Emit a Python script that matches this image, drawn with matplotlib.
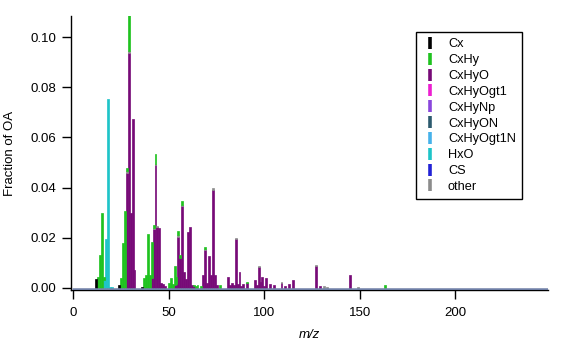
import matplotlib
matplotlib.use("Agg")
import matplotlib.pyplot as plt
from matplotlib.lines import Line2D

plt.rcParams['font.family'] = ['Liberation Sans', 'DejaVu Sans']
plt.rcParams['font.size'] = 9

# Ion families in legend order, with their colours
families = ["Cx", "CxHy", "CxHyO", "CxHyOgt1", "CxHyNp", "CxHyON",
            "CxHyOgt1N", "HxO", "CS", "other"]
colors = {
    "Cx": "#000000",
    "CxHy": "#1fc21f",
    "CxHyO": "#770a77",
    "CxHyOgt1": "#ec1fd0",
    "CxHyNp": "#8a47dc",
    "CxHyON": "#2c5a6e",
    "CxHyOgt1N": "#46b2ea",
    "HxO": "#1ec4c8",
    "CS": "#2222d6",
    "other": "#8c8c8c",
}

# Fraction of OA per nominal m/z for each family
cx_mz = [12, 24, 36]
cx_val = [0.0035, 0.0010, 0.0003]

cxhy_mz = [13, 14, 15, 16, 25, 26, 27, 28, 29, 37, 38, 39, 40, 41, 42, 43,
           50, 51, 52, 53, 54, 55, 56, 57, 63, 64, 65, 67, 69, 77, 91, 163]
cxhy_val = [0.0045, 0.0130, 0.0300, 0.0015, 0.0041, 0.0178, 0.0307, 0.0010,
            0.0148, 0.0040, 0.0052, 0.0215, 0.0050, 0.0145, 0.0010, 0.0038,
            0.0020, 0.0039, 0.0015, 0.0078, 0.0030, 0.0016, 0.0010, 0.0016,
            0.0006, 0.0008, 0.0012, 0.0008, 0.0009, 0.0010, 0.0005, 0.0013]

cxhyo_mz = [28, 29, 30, 31, 32, 41, 42, 43, 44, 45, 46, 47, 48, 53, 54, 55,
            56, 57, 58, 59, 60, 61, 62, 63, 68, 69, 70, 71, 72, 73, 74, 75,
            81, 82, 83, 84, 85, 86, 87, 88, 89, 91, 95, 96, 97, 98, 99, 100,
            101, 103, 105, 109, 111, 113, 115, 127, 129, 145]
cxhyo_val = [0.0460, 0.0935, 0.0300, 0.0672, 0.0072, 0.0040, 0.0236, 0.0490,
             0.0242, 0.0238, 0.0021, 0.0016, 0.0008, 0.0010, 0.0015, 0.0205,
             0.0120, 0.0326, 0.0065, 0.0035, 0.0224, 0.0244, 0.0012, 0.0006,
             0.0050, 0.0150, 0.0020, 0.0127, 0.0052, 0.0392, 0.0052, 0.0012,
             0.0045, 0.0012, 0.0020, 0.0010, 0.0195, 0.0015, 0.0062, 0.0008,
             0.0015, 0.0020, 0.0032, 0.0012, 0.0083, 0.0025, 0.0043, 0.0008,
             0.0041, 0.0015, 0.0012, 0.0018, 0.0008, 0.0015, 0.0032, 0.0087,
             0.0006, 0.0052]

hxo_mz = [16, 17, 18, 19, 20]
hxo_val = [0.0030, 0.0196, 0.0755, 0.0003, 0.0003]

other_mz = [28, 29, 42, 43, 44, 55, 57, 69, 73, 85, 97, 109, 127, 131, 133, 149]
other_val = [0.0008, 0.0008, 0.0005, 0.0006, 0.0004, 0.0006, 0.0006, 0.0004,
             0.0005, 0.0006, 0.0005, 0.0004, 0.0004, 0.0006, 0.0003, 0.0005]

series = {
    "Cx": (cx_mz, cx_val),
    "CxHy": (cxhy_mz, cxhy_val),
    "CxHyO": (cxhyo_mz, cxhyo_val),
    "HxO": (hxo_mz, hxo_val),
    "other": (other_mz, other_val),
}

# bottom-to-top stacking order of the bars
stack_order = ["CxHyO", "CxHyOgt1", "CxHyNp", "CxHyON", "CxHyOgt1N",
               "HxO", "CS", "other", "CxHy", "Cx"]

fig = plt.figure(figsize=(5.77, 3.40), dpi=100)
ax = fig.add_axes([0.1225, 0.1471, 0.8272, 0.8058])

base = {}
for fam in stack_order:
    if fam not in series:
        continue
    xs, ys = series[fam]
    bottoms = [base.get(m, 0.0) for m in xs]
    ax.bar(xs, ys, width=1.0, bottom=bottoms, color=colors[fam],
           edgecolor=colors[fam], linewidth=0.5, align="center")
    for m, v in zip(xs, ys):
        base[m] = base.get(m, 0.0) + v

# zero line along the m/z range
ax.hlines(-0.00035, -0.5, 248.5, color="#6f7fa6", lw=1.8, zorder=3)

ax.set_xlim(-1.4, 248.5)
ax.set_ylim(-0.0008, 0.1084)
ax.set_xticks([0, 50, 100, 150, 200])
ax.set_yticks([0.0, 0.02, 0.04, 0.06, 0.08, 0.10])
ax.set_yticklabels(["0.00", "0.02", "0.04", "0.06", "0.08", "0.10"])
for s in ("top", "right"):
    ax.spines[s].set_visible(False)
for s in ("left", "bottom"):
    ax.spines[s].set_linewidth(1.0)
ax.tick_params(direction="out", length=6.5, width=1.0, labelsize=9.5, pad=4)
ax.tick_params(axis="x", pad=6)

ax.set_xlabel("m/z", style="italic", fontsize=9.5, labelpad=7)
ax.set_ylabel("Fraction of OA", fontsize=9.5, labelpad=10)

handles = [Line2D([], [], ls="none", marker="|", markersize=8, mew=2.6,
                  color=colors[f]) for f in families]
leg = fig.legend(handles, families, loc="upper left",
                 bbox_to_anchor=(416 / 577, 1 - 32 / 340),
                 bbox_transform=fig.transFigure, frameon=True, fancybox=False,
                 edgecolor="black", framealpha=1, fontsize=9.2,
                 labelspacing=0.3, handlelength=1.2, handletextpad=0.8,
                 borderpad=0.5, borderaxespad=0)
leg.get_frame().set_linewidth(1.0)

fig.savefig("out.png", dpi=100)
